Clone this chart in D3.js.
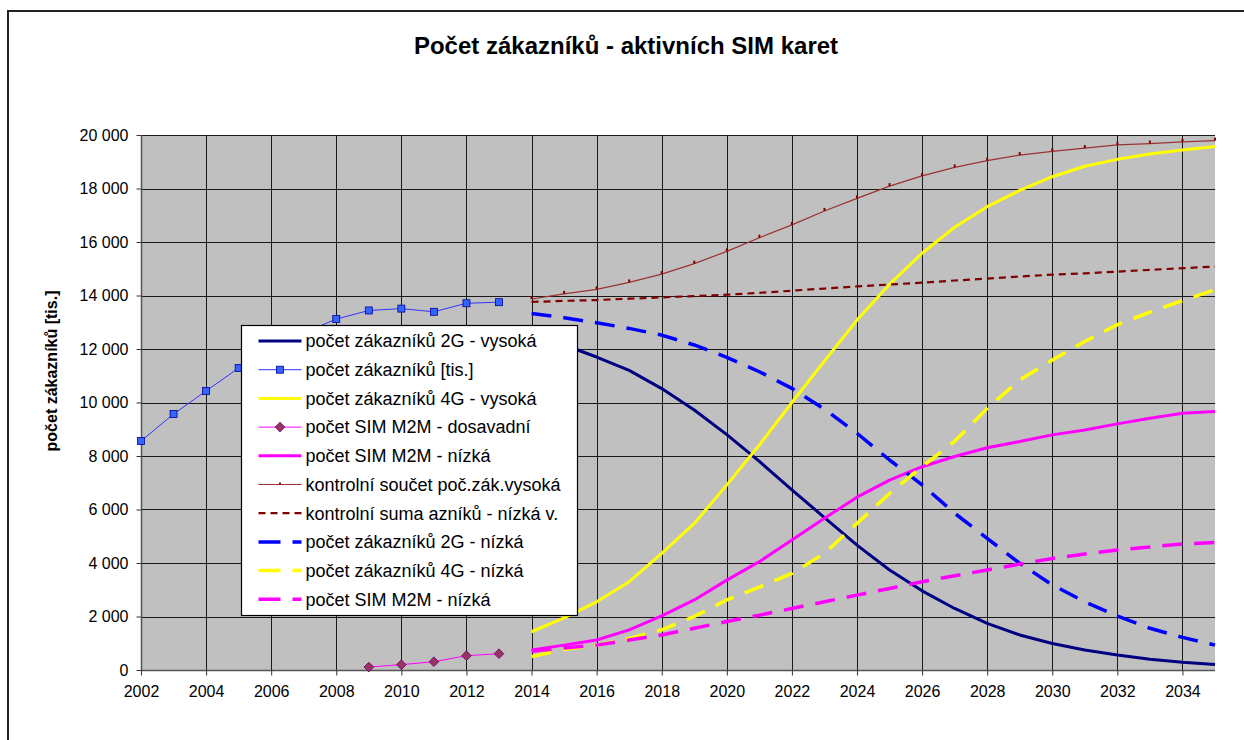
<!DOCTYPE html>
<html>
<head>
<meta charset="utf-8">
<script src="https://cdn.jsdelivr.net/npm/d3@7"></script>
<style>
    body { margin: 0; background: #fff; }
    svg { display: block; font-family: "Liberation Sans", Arial, sans-serif; }
</style>
</head>
<body>
<div id="svgDiv"></div>
<script>
// DATA
var yearsHist = [2002, 2003, 2004, 2005, 2006, 2007, 2008, 2009, 2010, 2011, 2012, 2013];
var custHist = [8560, 9570, 10430, 11290, 11950, 12600, 13120, 13440, 13510, 13390, 13710, 13750];

var yearsM2M = [2009, 2010, 2011, 2012, 2013];
var m2mHist = [110, 200, 310, 535, 610];

var years = [2014, 2015, 2016, 2017, 2018, 2019, 2020, 2021, 2022, 2023, 2024,
             2025, 2026, 2027, 2028, 2029, 2030, 2031, 2032, 2033, 2034, 2035];
var g2High = [12500, 12150, 11700, 11200, 10520, 9720, 8800, 7800, 6730, 5700, 4670,
              3740, 2960, 2300, 1740, 1310, 990, 750, 560, 400, 290, 210];
var g4High = [1430, 1950, 2550, 3300, 4360, 5480, 6920, 8410, 10000, 11550, 13080,
              14420, 15580, 16550, 17320, 17930, 18440, 18830, 19090, 19290, 19440, 19570];
var m2mLowSolid = [750, 930, 1120, 1500, 2020, 2620, 3360, 4050, 4860, 5670, 6460,
                   7100, 7600, 7980, 8310, 8540, 8790, 8970, 9200, 9410, 9600, 9660];
var sumHigh = [13870, 14060, 14230, 14490, 14800, 15190, 15650, 16160, 16640, 17160, 17630,
               18090, 18470, 18790, 19040, 19250, 19390, 19510, 19630, 19680, 19740, 19790];
var sumLow = [13760, 13800, 13830, 13880, 13930, 13980, 14030, 14100, 14180, 14260, 14340,
              14410, 14480, 14560, 14630, 14710, 14780, 14830, 14890, 14960, 15020, 15080];
var g2Low = [13330, 13170, 12980, 12770, 12520, 12150, 11690, 11150, 10530, 9750, 8850,
             7850, 6920, 5860, 4920, 3990, 3180, 2550, 2020, 1560, 1220, 930];
var g4Low = [500, 770, 930, 1180, 1500, 2000, 2620, 3100, 3610, 4360, 5480,
             6600, 7600, 8550, 9780, 10840, 11590, 12280, 12910, 13380, 13810, 14210];
var m2mLowDash = [700, 820, 930, 1120, 1310, 1560, 1810, 2050, 2300, 2550, 2800,
                  3050, 3300, 3520, 3740, 3960, 4170, 4340, 4490, 4600, 4710, 4770];

var xTicks = [2002, 2004, 2006, 2008, 2010, 2012, 2014, 2016, 2018, 2020, 2022, 2024,
              2026, 2028, 2030, 2032, 2034];
var yTicks = [0, 2000, 4000, 6000, 8000, 10000, 12000, 14000, 16000, 18000, 20000];

var legendLabels = [
    "počet zákazníků 2G - vysoká",
    "počet zákazníků [tis.]",
    "počet zákazníků 4G - vysoká",
    "počet SIM M2M - dosavadní",
    "počet SIM M2M - nízká",
    "kontrolní součet poč.zák.vysoká",
    "kontrolní suma azníků - nízká v.",
    "počet zákazníků 2G - nízká",
    "počet zákazníků 4G - nízká",
    "počet SIM M2M - nízká"
];

// series table (drawing order = legend order)
var series = [
    {x: years, y: g2High, color: "#000080", width: 3, dash: null},
    {x: yearsHist, y: custHist, color: "#3333ff", width: 1, dash: null, marker: "square"},
    {x: years, y: g4High, color: "#ffff00", width: 3, dash: null},
    {x: yearsM2M, y: m2mHist, color: "#ff00ff", width: 1, dash: null, marker: "diamond"},
    {x: years, y: m2mLowSolid, color: "#ff00ff", width: 3, dash: null},
    {x: years, y: sumHigh, color: "#993333", width: 1.2, dash: null, marker: "tick"},
    {x: years, y: sumLow, color: "#800000", width: 2.2, dash: "7,5"},
    {x: years, y: g2Low, color: "#0000ff", width: 3.5, dash: "20,12"},
    {x: years, y: g4Low, color: "#ffff00", width: 3.5, dash: "20,12"},
    {x: years, y: m2mLowDash, color: "#ff00ff", width: 3.5, dash: "20,12"}
];
series.forEach(function(s, i){ s.label = legendLabels[i]; });

// SIZE
var w = 1244, h = 740;
var plot = {left: 141, right: 1215, top: 135, bottom: 670};

var svg = d3.select("#svgDiv")
    .append("svg")
    .attr("width", w)
    .attr("height", h);

// outer frame
svg.append("rect")
    .attr("x", 8)
    .attr("y", 11)
    .attr("width", 1400)
    .attr("height", 1000)
    .attr("fill", "#fff")
    .attr("stroke", "#222")
    .attr("stroke-width", 2);

// scales
var x = d3.scaleLinear().domain([2002, 2035]).range([plot.left, plot.right]);
var y = d3.scaleLinear().domain([0, 20000]).range([plot.bottom, plot.top]);

// plot area
svg.append("rect")
    .attr("x", plot.left)
    .attr("y", plot.top)
    .attr("width", plot.right - plot.left)
    .attr("height", plot.bottom - plot.top)
    .attr("fill", "#c0c0c0");

// gridlines
var grid = svg.append("g").attr("shape-rendering", "crispEdges");
grid.selectAll(".vgrid")
    .data(xTicks)
    .enter()
    .append("line")
    .attr("x1", function(d){ return Math.round(x(d)) + 0.5; })
    .attr("x2", function(d){ return Math.round(x(d)) + 0.5; })
    .attr("y1", plot.top)
    .attr("y2", plot.bottom)
    .attr("stroke", "#1a1a1a");
grid.selectAll(".hgrid")
    .data(yTicks.slice(1))
    .enter()
    .append("line")
    .attr("x1", plot.left)
    .attr("x2", plot.right)
    .attr("y1", function(d){ return Math.round(y(d)) + 0.5; })
    .attr("y2", function(d){ return Math.round(y(d)) + 0.5; })
    .attr("stroke", "#1a1a1a");

// axes
var fmt = function(d){ return d3.format(",")(d).replace(/,/g, " "); };
var xAxis = svg.append("g")
    .attr("transform", "translate(0," + (plot.bottom + 0.5) + ")")
    .call(d3.axisBottom(x).tickValues(xTicks).tickFormat(d3.format("d")).tickSize(5).tickPadding(10));
var yAxis = svg.append("g")
    .attr("transform", "translate(" + (plot.left + 0.5) + ",0)")
    .call(d3.axisLeft(y).tickValues(yTicks).tickFormat(fmt).tickSize(5).tickPadding(8));

[xAxis, yAxis].forEach(function(a){
    a.select(".domain").attr("stroke", "#555").attr("stroke-width", 1.5);
    a.selectAll(".tick line").attr("stroke", "#333");
    a.selectAll("text")
        .attr("fill", "#000")
        .style("font-family", "'Liberation Sans', Arial, sans-serif")
        .style("font-size", "16px");
});
yAxis.select(".domain").attr("d", "M0," + plot.top + "V" + plot.bottom);
xAxis.select(".domain").attr("d", "M" + plot.left + ",0H" + plot.right);

// lines
var line = d3.line()
    .x(function(d){ return x(d[0]); })
    .y(function(d){ return y(d[1]); });

var marks = svg.append("g");
series.forEach(function(s){
    var pts = s.x.map(function(yr, i){ return [yr, s.y[i]]; });
    marks.append("path")
        .datum(pts)
        .attr("fill", "none")
        .attr("stroke", s.color)
        .attr("stroke-width", s.width)
        .attr("stroke-dasharray", s.dash)
        .attr("stroke-linejoin", "round")
        .attr("d", line);

    if (s.marker === "square") {
        marks.selectAll(null)
            .data(pts)
            .enter()
            .append("rect")
            .attr("x", function(d){ return x(d[0]) - 3.5; })
            .attr("y", function(d){ return y(d[1]) - 3.5; })
            .attr("width", 7)
            .attr("height", 7)
            .attr("fill", "#3366ff")
            .attr("stroke", "#000099")
            .attr("stroke-width", 0.8);
    } else if (s.marker === "diamond") {
        marks.selectAll(null)
            .data(pts)
            .enter()
            .append("path")
            .attr("d", d3.symbol().type(d3.symbolDiamond2).size(60))
            .attr("transform", function(d){ return "translate(" + x(d[0]) + "," + y(d[1]) + ")"; })
            .attr("fill", "#993366")
            .attr("stroke", "#660066")
            .attr("stroke-width", 0.8);
    } else if (s.marker === "tick") {
        marks.selectAll(null)
            .data(pts)
            .enter()
            .append("rect")
            .attr("x", function(d){ return x(d[0]) - 1; })
            .attr("y", function(d){ return y(d[1]) - 3; })
            .attr("width", 2)
            .attr("height", 3)
            .attr("fill", "#800000");
    }
});

// title
svg.append("text")
    .attr("x", 626)
    .attr("y", 54)
    .attr("text-anchor", "middle")
    .style("font-size", "24px")
    .style("font-weight", "bold")
    .text("Počet zákazníků - aktivních SIM karet");

// y axis title
svg.append("text")
    .attr("transform", "translate(57,371) rotate(-90)")
    .attr("text-anchor", "middle")
    .style("font-size", "16px")
    .style("font-weight", "bold")
    .text("počet zákazníků [tis.]");

// legend
var legend = svg.append("g").attr("transform", "translate(241.5,325.5)");
legend.append("rect")
    .attr("width", 336)
    .attr("height", 290)
    .attr("fill", "#fff")
    .attr("stroke", "#000")
    .attr("stroke-width", 1.2);

var rows = legend.selectAll(".row")
    .data(series)
    .enter()
    .append("g")
    .attr("transform", function(d, i){ return "translate(0," + (15.5 + i * 28.7) + ")"; });

rows.append("line")
    .attr("x1", 17)
    .attr("x2", 60)
    .attr("stroke", function(d){ return d.color; })
    .attr("stroke-width", function(d){ return d.width; })
    .attr("stroke-dasharray", function(d){ return d.dash === "20,12" ? "22,12" : d.dash; });

rows.filter(function(d){ return d.marker === "square"; })
    .append("rect")
    .attr("x", 35)
    .attr("y", -3.5)
    .attr("width", 7)
    .attr("height", 7)
    .attr("fill", "#3366ff")
    .attr("stroke", "#000099")
    .attr("stroke-width", 0.8);

rows.filter(function(d){ return d.marker === "diamond"; })
    .append("path")
    .attr("d", d3.symbol().type(d3.symbolDiamond2).size(60))
    .attr("transform", "translate(38.5,0)")
    .attr("fill", "#993366")
    .attr("stroke", "#660066")
    .attr("stroke-width", 0.8);

rows.filter(function(d){ return d.marker === "tick"; })
    .append("rect")
    .attr("x", 37.5)
    .attr("y", -2)
    .attr("width", 2)
    .attr("height", 2)
    .attr("fill", "#800000");

rows.append("text")
    .attr("x", 64)
    .attr("y", 0)
    .attr("dy", "0.35em")
    .style("font-size", "18px")
    .text(function(d){ return d.label; });
</script>
</body>
</html>
